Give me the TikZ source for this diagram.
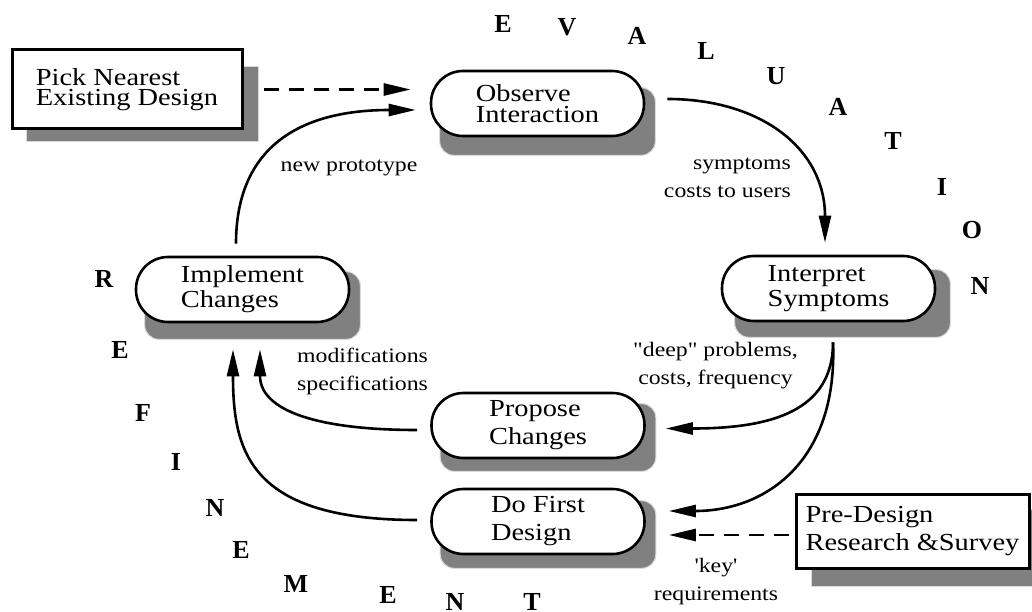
\documentclass[tikz,border=0pt]{standalone}
\usepackage{fontspec}
\setmainfont{Liberation Serif}[FakeStretch=1.16, Ligatures=TeXOff]
\newfontfamily\letterfont{Liberation Serif}[Ligatures=TeXOff]
\usetikzlibrary{arrows.meta,calc,backgrounds}

% box text with a given line spacing
\newcommand\bxfont[1]{\fontsize{24.5}{#1}\selectfont}
\newcommand\lblfont{\fontsize{20.5}{28}\selectfont}

\begin{document}
\begin{tikzpicture}[x=1pt,y=-1pt,
  every node/.style={inner sep=0pt},
  stadium/.style={draw=black, line width=2.6pt, fill=white, rounded corners=32pt,
                  minimum width=213pt, minimum height=65pt, align=left},
  plainbox/.style={draw=black, line width=3pt, fill=white, align=left},
  shade/.style={fill=gray, draw=gray!30, line width=1pt},
  flow/.style={line width=2.6pt, -{Triangle[length=27pt,width=12pt]}},
  feed/.style={flow, dash pattern=on 15pt off 10pt},
  note/.style={font=\lblfont},
  ltr/.style={font=\letterfont\bfseries\fontsize{26}{26}\selectfont}
]
\useasboundingbox (0,0) rectangle (1032,612);

% process steps
\node[stadium, font=\bxfont{21.7}] (obs)  at (537.5,103.5) {Observe\\Interaction};
\node[stadium, font=\bxfont{25}]   (int)  at (828.5,288.5) {Interpret\\Symptoms};
\node[stadium, font=\bxfont{28}]   (prop) at (538,425.5)   {Propose\\Changes};
\node[stadium, font=\bxfont{28}]   (do)   at (538,521.5)   {Do First\\Design};
\node[stadium, font=\bxfont{25}]   (imp)  at (242.5,289.5) {Implement\\Changes};

% entry points
\node[plainbox, font=\bxfont{20}, minimum width=230pt, minimum height=79pt] (pick) at (127,89.5)
  {Pick Nearest\\Existing Design};
\node[plainbox, font=\bxfont{28}, minimum width=233pt, minimum height=74pt] (pre) at (912.5,531)
  {Pre-Design\\Research \&Survey};

% drop shadows
\begin{scope}[on background layer]
  \foreach \n/\dx/\dy in {obs/10/18, int/14/15, prop/10/12, do/10/13, imp/10/16}
    \filldraw[shade, rounded corners=14pt]
      ($(\n.south west)+(\dx,\dy)$) rectangle ($(\n.north east)+(\dx,\dy)$);
  \filldraw[shade] ($(pick.south west)+(16,11)$) rectangle ($(pick.north east)+(15,18)$);
  \filldraw[shade] ($(pre.south west)+(17,17)$) rectangle ($(pre.north east)+(17,17)$);
\end{scope}

% connectors
\draw[feed] ($(pick.east)+(20,0)$) -- ($(pick.east -| obs.west)+(-19,0)$);
\draw[flow] ($(imp.north)+(-6.5,-12)$) .. controls +(0,-95) and +(-118,0) .. ($(obs.west)+(-14,6.5)$);
\draw[flow] ($(obs.east)+(22,-4.5)$) .. controls +(95,0) and +(0,-93) .. ($(int.north)+(-3.5,-12)$);
\draw[flow] ($(int.south)+(4.5,20)$) .. controls +(0,69) and +(105,0) .. ($(prop.east)+(20,3)$);
\draw[flow] ($(int.south)+(4.5,20)$) .. controls +(5,119) and +(97,0) .. ($(do.east)+(23,-10.5)$);
\draw[feed] ($(pre.west)+(-6,4)$) -- ($(do.east)+(23,13.5)$);
\draw[flow] ($(prop.west)+(-13,4.5)$) .. controls +(-98,0) and +(0,62) .. ($(imp.south)+(17.5,26)$);
\draw[flow] ($(do.west)+(-13,-1.5)$) .. controls +(-168,0) and +(0,102) .. ($(imp.south)+(-9.5,26)$);

% connector labels
\node[note] (lnew) at (349,168) {new prototype};
\node[note, align=right, anchor=east] (lsym) at (791,178) {symptoms\\costs to users};
\node[note, align=left, anchor=west] (lmod) at (297,371) {modifications\\specifications};
\node[note, align=center] (ldeep) at (715.5,366) {"deep" problems,\\costs, frequency};
\node[note, align=center] (lkey) at (716,581.5) {'key'\\requirements};

% EVALUATION
\node[ltr] (ev1) at (503,24)  {E};
\node[ltr] (ev2) at (567,27)  {V};
\node[ltr] (ev3) at (637,36)  {A};
\node[ltr] (ev4) at (706,51)  {L};
\node[ltr] (ev5) at (776,76)  {U};
\node[ltr] (ev6) at (838,107) {A};
\node[ltr] (ev7) at (893,141) {T};
\node[ltr] (ev8) at (942,187) {I};
\node[ltr] (ev9) at (972,230) {O};
\node[ltr] (ev10) at (980,286) {N};

% REFINEMENT
\node[ltr] (rf1) at (104,279) {R};
\node[ltr] (rf2) at (120,350) {E};
\node[ltr] (rf3) at (143,413) {F};
\node[ltr] (rf4) at (176,462) {I};
\node[ltr] (rf5) at (215,508) {N};
\node[ltr] (rf6) at (241,550) {E};
\node[ltr] (rf7) at (296,584) {M};
\node[ltr] (rf8) at (388,595) {E};
\node[ltr] (rf9) at (455,602) {N};
\node[ltr] (rf10) at (532,602) {T};
\end{tikzpicture}
\end{document}
